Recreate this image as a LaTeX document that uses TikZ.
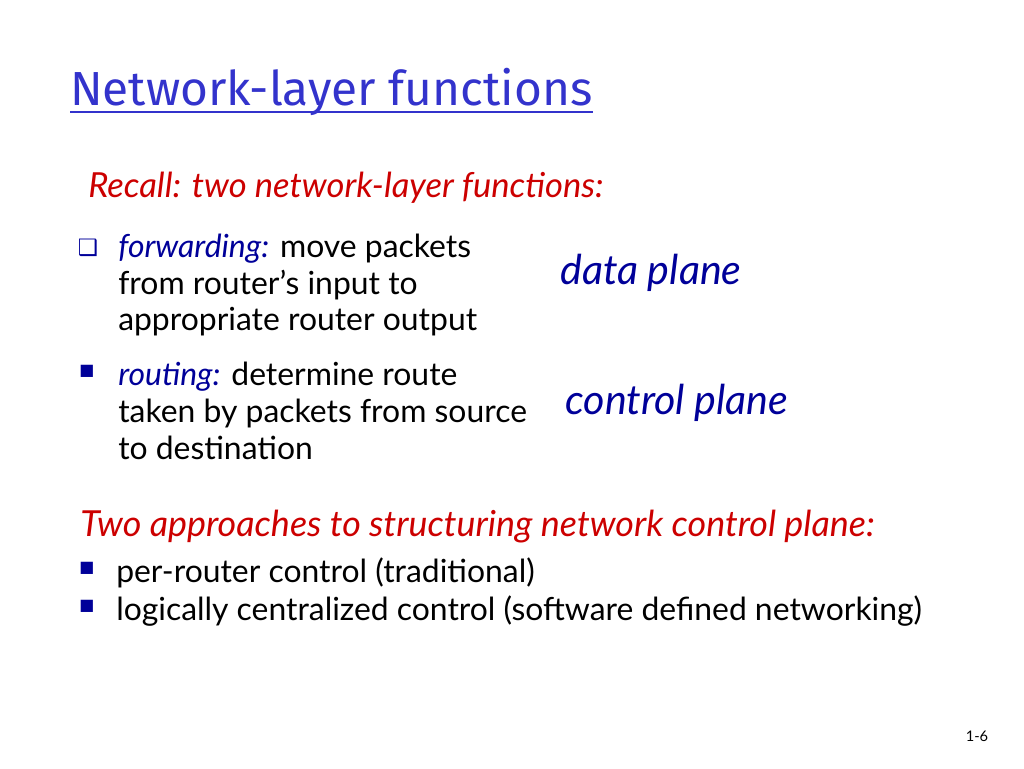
\documentclass[tikz,border=0pt]{standalone}
\usepackage{fontspec}
\setmainfont{Lato}
\newfontfamily\titlefont{Fira Sans}
\newfontfamily\symfont{DejaVu Sans}
\definecolor{slideblue}{RGB}{51,51,204}
\definecolor{slidered}{RGB}{204,0,0}
\definecolor{plainblue}{RGB}{0,0,153}
\begin{document}
\begin{tikzpicture}
		[x=0.02646cm,y=-0.02646cm,
		body/.style ={anchor=west, align=left, font=\fontsize{24}{27.8}\selectfont, inner sep=0pt},
		head/.style ={anchor=west, inner sep=0pt, text=slidered, font=\fontsize{27}{30}\selectfont\itshape},
		plane/.style ={anchor=west, inner sep=0pt, text=plainblue, font=\fontsize{31}{34}\selectfont\itshape},
		bullet/.style ={anchor=center, inner sep=0pt, text=plainblue, font=\symfont\fontsize{12}{12}\selectfont},
		]
		\useasboundingbox (0,0) rectangle (1024,768);

		\node[anchor=west, inner sep=0pt, text=slideblue, font=\titlefont\fontsize{36}{38}\selectfont] (title) at (70,92) {Network-layer functions};
		\draw[slideblue, thick] (title.south west)++(0,-4) coordinate (u1) -- (title.south east |- u1);

		\node[head, font=\fontsize{26}{30}\selectfont\itshape] (recall) at (88,188) {Recall: two network-layer functions:};

		\node[bullet, font=\symfont\fontsize{17}{17}\selectfont] (b1) at (88,248) {❑};
		\node[body] (fwd) at (118,285) {{\color{plainblue}\itshape forwarding:} move packets\\from router's input to\\appropriate router output};
		\node[plane] (data) at (560,273) {data plane};

		\node[bullet] (b2) at (87,371) {■};
		\node[body] (rout) at (118,411) {{\color{plainblue}\itshape routing:} determine route\\taken by packets from source\\to destination};
		\node[plane] (ctrl) at (565,403) {control plane};

		\node[head] (two) at (80,527) {Two approaches to structuring network control plane:};
		\node[bullet] (b3) at (87,568) {■};
		\node[body] (per) at (116,573) {per-router control (traditional)};
		\node[bullet] (b4) at (87,606) {■};
		\node[body] (logi) at (116,611) {logically centralized control (software defined networking)};

		\node[anchor=center, inner sep=0pt, font=\fontsize{11}{12}\selectfont\rmfamily] (page) at (977,736) {1-6};
	\end{tikzpicture}
\end{document}
